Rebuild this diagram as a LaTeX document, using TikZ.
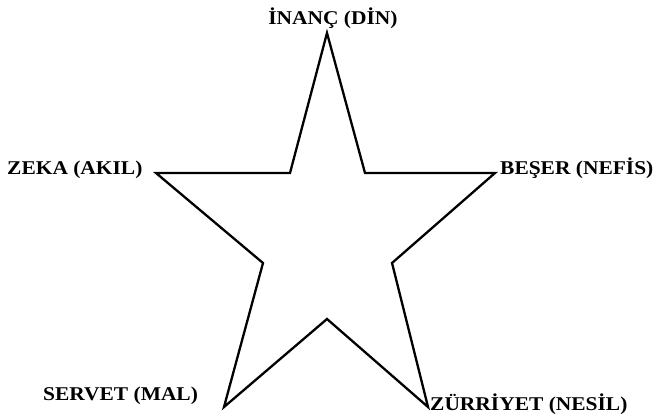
\documentclass[tikz,border=0pt]{standalone}
\usepackage{fontspec}
\setmainfont[FakeStretch=1.1]{Liberation Serif}
\begin{document}
\begin{tikzpicture}[x=1pt,y=-1pt,
  lbl/.style={font=\fontsize{19.5}{21}\selectfont\bfseries, inner sep=0pt, text=black},
  starline/.style={line width=2.3pt, line join=miter, black}]
\useasboundingbox (0,0) rectangle (661,419);
\coordinate (top) at (327,33);
\coordinate (ir) at (365,173);
\coordinate (right) at (495,173);
\coordinate (rin) at (392,263);
\coordinate (br) at (428,407);
\coordinate (bin) at (327,319);
\coordinate (bl) at (224,407);
\coordinate (lin) at (263,263);
\coordinate (left) at (156,173);
\coordinate (il) at (290,173);
\draw[starline] (top) -- (ir) -- (right) -- (rin) -- (br) -- (bin) -- (bl) -- (lin) -- (left) -- (il) -- cycle;
\node[lbl, anchor=base] (din) at (333,25) {İNANÇ (DİN)};
\node[lbl, anchor=base west] (akil) at (7,175) {ZEKA (AKIL)};
\node[lbl, anchor=base west] (nefis) at (500,175) {BEŞER (NEFİS)};
\node[lbl, anchor=base west] (mal) at (43,400) {SERVET (MAL)};
\node[lbl, anchor=base west] (nesil) at (430,410) {ZÜRRİYET (NESİL)};
\end{tikzpicture}
\end{document}
